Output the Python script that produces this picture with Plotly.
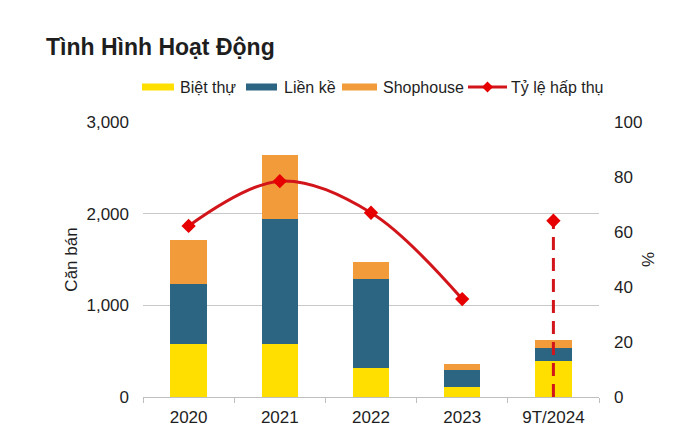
import plotly.graph_objects as go

categories = ["2020", "2021", "2022", "2023", "9T/2024"]
biet_thu = [578, 578, 313, 106, 393]
lien_ke = [655, 1364, 974, 185, 138]
shophouse = [480, 695, 189, 66, 94]
ty_le = [62.2, 78.5, 67.0, 35.6, 64.1]
series_names = ["Biệt thự", "Liền kề", "Shophouse", "Tỷ lệ hấp thụ"]

YELLOW = "#FFDF00"
BLUE = "#2C6581"
ORANGE = "#F29B3A"
RED_LINE = "#D2151A"
RED_MARK = "#E60000"
FONT = "Liberation Sans, Arial, sans-serif"
TXT = "#1E1E1E"

W, H = 680, 447
ML, MR, MT, MB = 143, 81, 122, 50
PW, PH = W - ML - MR, H - MT - MB


def px_x(px):
    return (px - ML) / PW


def px_y(py):
    return (H - MB - py) / PH


fig = go.Figure()
fig.add_trace(go.Bar(x=categories, y=biet_thu, name=series_names[0], marker_color=YELLOW, marker_line_width=0))
fig.add_trace(go.Bar(x=categories, y=lien_ke, name=series_names[1], marker_color=BLUE, marker_line_width=0))
fig.add_trace(go.Bar(x=categories, y=shophouse, name=series_names[2], marker_color=ORANGE, marker_line_width=0))

# Solid smoothed line for full years
fig.add_trace(go.Scatter(
    x=categories[:4], y=ty_le[:4], name=series_names[3], yaxis="y2",
    mode="lines+markers", line=dict(color=RED_LINE, width=3, shape="spline", smoothing=1.0),
    marker=dict(symbol="diamond", size=11, color=RED_MARK),
))
# Dashed drop line for 9T/2024
fig.add_trace(go.Scatter(
    x=[categories[4], categories[4]], y=[0, ty_le[4]], yaxis="y2", showlegend=False,
    mode="lines", line=dict(color=RED_LINE, width=3, dash="13px,8px"),
))
fig.add_trace(go.Scatter(
    x=[categories[4]], y=[ty_le[4]], yaxis="y2", showlegend=False,
    mode="markers", marker=dict(symbol="diamond", size=11, color=RED_MARK),
))

# Legend drawn in the Excel style (wide flat swatches)
LEG_Y = 87
LEG_FONT = 16
shapes = []
annotations = []
swatches = [(142, 174, 178, YELLOW), (246, 277, 282, BLUE), (342, 377, 381, ORANGE)]
for (x0, x1, tx, col), name in zip(swatches, series_names[:3]):
    shapes.append(dict(type="rect", xref="paper", yref="paper",
                       x0=px_x(x0), x1=px_x(x1), y0=px_y(LEG_Y + 3.5), y1=px_y(LEG_Y - 3.5),
                       fillcolor=col, line=dict(width=0), layer="above"))
    annotations.append(dict(text=name, xref="paper", yref="paper", x=px_x(tx), y=px_y(LEG_Y),
                            xanchor="left", yanchor="middle", showarrow=False,
                            font=dict(size=LEG_FONT, color=TXT)))
shapes.append(dict(type="line", xref="paper", yref="paper", x0=px_x(468), x1=px_x(507),
                   y0=px_y(LEG_Y), y1=px_y(LEG_Y), line=dict(color=RED_LINE, width=3)))
cx, d = 487.5, 5.5
shapes.append(dict(type="path", xref="paper", yref="paper",
                   path=(f"M {px_x(cx - d)},{px_y(LEG_Y)} L {px_x(cx)},{px_y(LEG_Y - d)} "
                         f"L {px_x(cx + d)},{px_y(LEG_Y)} L {px_x(cx)},{px_y(LEG_Y + d)} Z"),
                   fillcolor=RED_MARK, line=dict(width=0)))
annotations.append(dict(text=series_names[3], xref="paper", yref="paper", x=px_x(509), y=px_y(LEG_Y),
                        xanchor="left", yanchor="middle", showarrow=False,
                        font=dict(size=LEG_FONT, color=TXT)))

fig.update_layout(
    width=W, height=H,
    paper_bgcolor="white", plot_bgcolor="white",
    barmode="stack", bargap=0.6,
    showlegend=False,
    margin=dict(l=ML, r=MR, t=MT, b=MB, autoexpand=False),
    font=dict(family=FONT, size=17, color=TXT),
    title=dict(text="<b>Tình Hình Hoạt Động</b>", x=46 / W, xref="container", xanchor="left",
               y=1 - 47 / H, yref="container", yanchor="middle", pad=dict(l=0, t=0, b=0),
               font=dict(family=FONT, size=23, color=TXT)),
    shapes=shapes,
    annotations=annotations,
    xaxis=dict(showline=True, linecolor="#BFBFBF", linewidth=1, ticks="outside",
               tickson="boundaries", ticklen=5, tickcolor="#BFBFBF",
               ticklabelstandoff=5, tickfont=dict(size=17)),
    yaxis=dict(range=[0, 3000], dtick=1000, tickformat=",", showgrid=True,
               gridcolor="#C8C8C8", gridwidth=1, zeroline=False,
               title=dict(text="Căn bán", font=dict(size=17), standoff=4),
               ticks="", ticklabelstandoff=13, tickfont=dict(size=17)),
    yaxis2=dict(range=[0, 100], dtick=20, overlaying="y", side="right", showgrid=False,
                zeroline=False, title=dict(text="%", font=dict(size=17), standoff=0),
                ticks="", ticklabelstandoff=14, tickfont=dict(size=17)),
)

fig.write_html("out.html", config={"displayModeBar": False},
               post_script="document.body.style.margin='0';")
